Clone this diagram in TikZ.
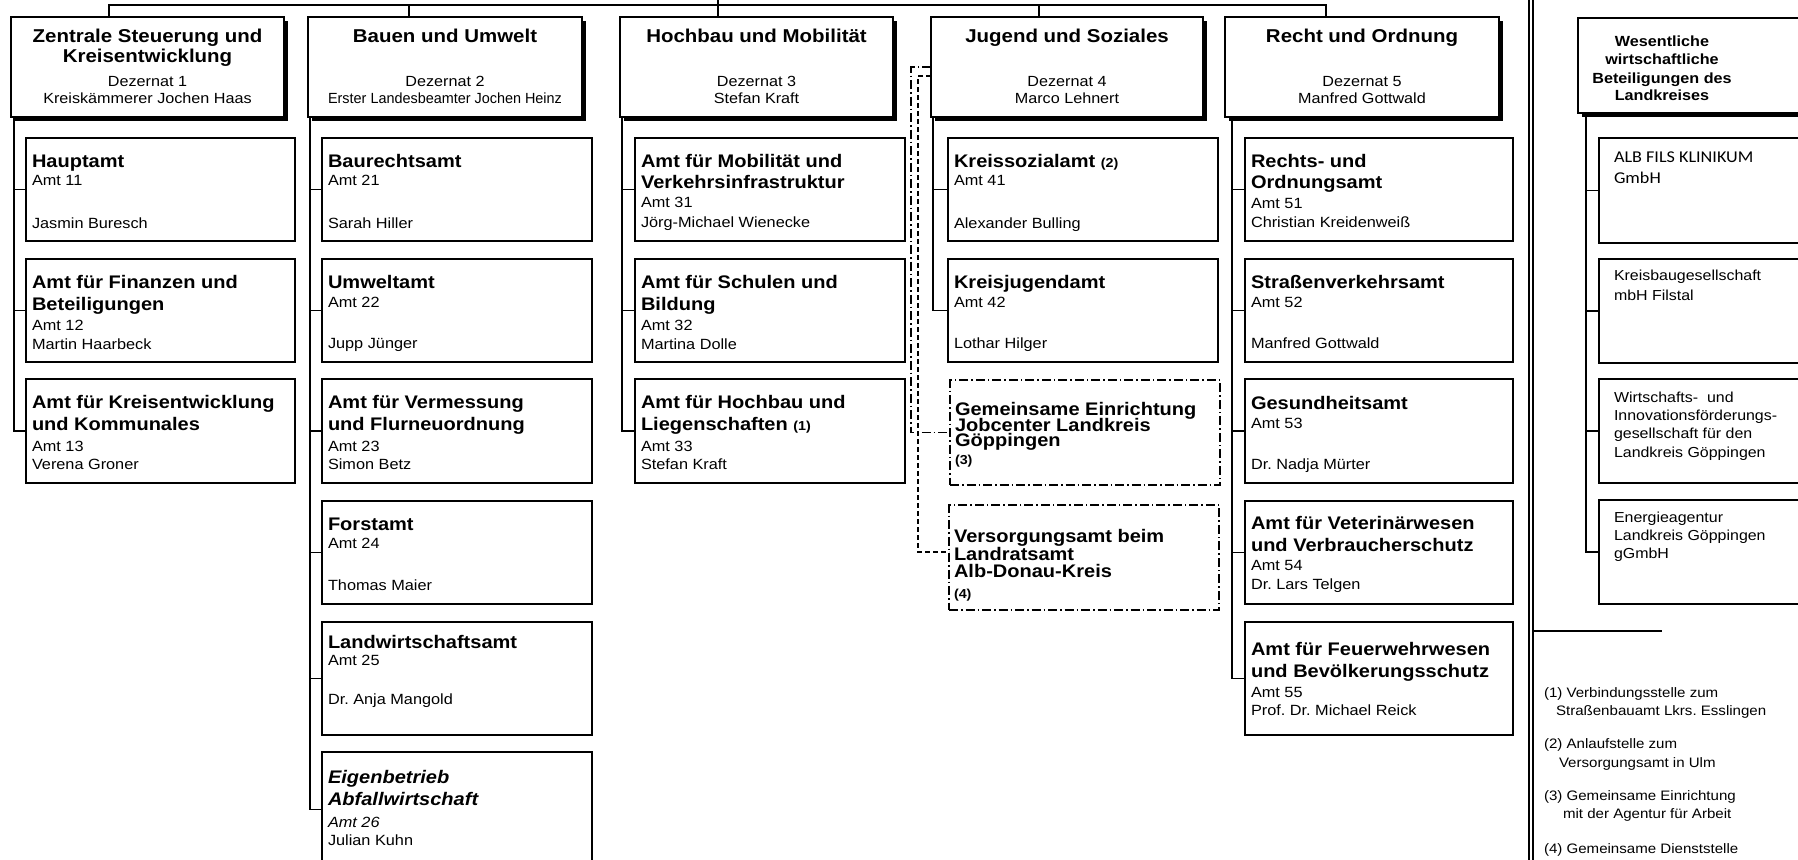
\documentclass[tikz,border=0pt]{standalone}
\usepackage{fontspec}
\setmainfont{Liberation Sans}[FakeStretch=1.1]
\newfontfamily\narrowf{Liberation Sans}[FakeStretch=0.98]
\newfontfamily\carl{Carlito}[FakeStretch=1.1]
\usetikzlibrary{shadows}
\frenchspacing
\newcommand\fntHT{\fontsize{18.6}{22}\selectfont\bfseries}
\newcommand\fntHB{\fontsize{14.7}{17}\selectfont}
\newcommand\fntHN{\narrowf\fontsize{14.7}{17}\selectfont}
\newcommand\fntST{\fontsize{18.2}{21}\selectfont\bfseries}
\newcommand\fntSB{\fontsize{14.8}{18}\selectfont}
\newcommand\fntSN{\fontsize{13}{15}\selectfont\bfseries}
\newcommand\fntBT{\fontsize{14.7}{17}\selectfont\bfseries}
\newcommand\fntBB{\fontsize{14.5}{17}\selectfont}
\newcommand\fntCB{\carl\fontsize{16.5}{18}\selectfont}
\newcommand\fntFN{\fontsize{13.7}{16}\selectfont}
\newcommand\tline[5]{\node[txt,font=#4] (#1) at (#2,#3) {#5};}
\newcommand\ctline[5]{\node[ctxt,font=#4] (#1) at (#2,#3) {#5};}
\tikzset{
  dez/.style={draw, line width=1.5pt, fill=white, anchor=north west, inner sep=0pt, outer sep=0pt,
    drop shadow={shadow xshift=4pt, shadow yshift=-4pt, fill=black, opacity=1}},
  amtbox/.style={draw, line width=1.3pt, fill=white, anchor=north west, inner sep=0pt, outer sep=0pt},
  extbox/.style={amtbox, dash pattern=on 9pt off 3pt on 1.5pt off 3pt},
  conn/.style={line width=1.4pt},
  ddot/.style={conn, line width=1.2pt, dash pattern=on 9pt off 3pt on 1.5pt off 3pt},
  dshd/.style={conn, line width=1.2pt, dash pattern=on 5pt off 3pt},
  txt/.style={anchor=base west, inner sep=0pt, outer sep=0pt},
  ctxt/.style={anchor=base, inner sep=0pt, outer sep=0pt},
}
\begin{document}
\begin{tikzpicture}[x=1pt,y=-1pt]
\useasboundingbox (0,0) rectangle (1798,859);
\clip (0,0) rectangle (1798,859);

% ---------- header boxes
\node[dez, minimum width=273pt, minimum height=100pt] (d1) at (11,17) {};
\node[dez, minimum width=274pt, minimum height=100pt] (d2) at (308,17) {};
\node[dez, minimum width=273pt, minimum height=100pt] (d3) at (620,17) {};
\node[dez, minimum width=272pt, minimum height=100pt] (d4) at (931,17) {};
\node[dez, minimum width=274pt, minimum height=100pt] (d5) at (1225,17) {};
\node[dez, minimum width=290pt, minimum height=95pt] (d6) at (1578,18) {};

% ---------- top connectors
\coordinate (t1) at (109,5);
\coordinate (t2) at (409,5);
\coordinate (t3) at (718,5);
\coordinate (t4) at (1039,5);
\coordinate (t5) at (1326,5);
\coordinate (up) at (718,-5);
\draw[conn] (t1 |- d1.north) -- (t1) -- (t5) -- (t5 |- d5.north);
\draw[conn] (t2) -- (t2 |- d2.north);
\draw[conn] (up) -- (t3 |- d3.north);
\draw[conn] (t4) -- (t4 |- d4.north);

% ---------- sub boxes
\node[amtbox, minimum width=269pt, minimum height=103pt] (a11) at (26,138) {};
\node[amtbox, minimum width=269pt, minimum height=103pt] (a12) at (26,259) {};
\node[amtbox, minimum width=269pt, minimum height=104pt] (a13) at (26,379) {};

\node[amtbox, minimum width=270pt, minimum height=103pt] (a21) at (322,138) {};
\node[amtbox, minimum width=270pt, minimum height=103pt] (a22) at (322,259) {};
\node[amtbox, minimum width=270pt, minimum height=104pt] (a23) at (322,379) {};
\node[amtbox, minimum width=270pt, minimum height=103pt] (a24) at (322,501) {};
\node[amtbox, minimum width=270pt, minimum height=113pt] (a25) at (322,622) {};
\node[amtbox, minimum width=270pt, minimum height=115pt] (a26) at (322,752) {};

\node[amtbox, minimum width=270pt, minimum height=103pt] (a31) at (635,138) {};
\node[amtbox, minimum width=270pt, minimum height=103pt] (a32) at (635,259) {};
\node[amtbox, minimum width=270pt, minimum height=104pt] (a33) at (635,379) {};

\node[amtbox, minimum width=270pt, minimum height=103pt] (a41) at (948,138) {};
\node[amtbox, minimum width=270pt, minimum height=103pt] (a42) at (948,259) {};
\node[extbox, minimum width=270pt, minimum height=105pt] (a43) at (950,380) {};
\node[extbox, minimum width=270pt, minimum height=105pt] (a44) at (949,505) {};

\node[amtbox, minimum width=268pt, minimum height=103pt] (a51) at (1245,138) {};
\node[amtbox, minimum width=268pt, minimum height=103pt] (a52) at (1245,259) {};
\node[amtbox, minimum width=268pt, minimum height=104pt] (a53) at (1245,379) {};
\node[amtbox, minimum width=268pt, minimum height=103pt] (a54) at (1245,501) {};
\node[amtbox, minimum width=268pt, minimum height=113pt] (a55) at (1245,622) {};

\node[amtbox, minimum width=260pt, minimum height=105pt] (b1) at (1599,138) {};
\node[amtbox, minimum width=260pt, minimum height=104pt] (b2) at (1599,259) {};
\node[amtbox, minimum width=260pt, minimum height=104pt] (b3) at (1599,379) {};
\node[amtbox, minimum width=260pt, minimum height=104pt] (b4) at (1599,500) {};

% ---------- column connectors
\foreach \b in {a11,a12,a13} \draw[conn] ([xshift=3pt]d1.south west) |- (\b.west);
\foreach \b in {a21,a22,a23,a24,a25,a26} \draw[conn] ([xshift=2pt]d2.south west) |- (\b.west);
\foreach \b in {a31,a32,a33} \draw[conn] ([xshift=2pt]d3.south west) |- (\b.west);
\foreach \b in {a41,a42} \draw[conn] ([xshift=2pt]d4.south west) |- (\b.west);
\foreach \b in {a51,a52,a53,a54,a55} \draw[conn] ([xshift=7pt]d5.south west) |- (\b.west);
\foreach \b in {b1,b2,b3,b4} \draw[conn] ([xshift=8pt]d6.south west) |- (\b.west);

% dashed links of Dezernat 4
\draw[ddot] (d4.west) -- (911,67) |- (a43.west);
\draw[dshd] ([yshift=-9pt]d4.west) -| (918,552) -- ([yshift=5.5pt]a44.west);

% double separator and footnote rule
\draw[conn] (1529,-2) -- (1529,862);
\draw[conn] (1533,-2) -- (1533,862);
\draw[conn] (1534,631) -- (1662,631);

% ---------- header texts
\ctline{d1t1}{147.5}{43}{\fntHT}{Zentrale Steuerung und}
\ctline{d1t2}{147.5}{63}{\fntHT}{Kreisentwicklung}
\ctline{d1t3}{147.5}{86}{\fntHB}{Dezernat 1}
\ctline{d1t4}{147.5}{103}{\fntHB}{Kreiskämmerer Jochen Haas}

\ctline{d2t1}{445}{43}{\fntHT}{Bauen und Umwelt}
\ctline{d2t2}{445}{86}{\fntHB}{Dezernat 2}
\ctline{d2t3}{445}{103}{\fntHN}{Erster Landesbeamter Jochen Heinz}

\ctline{d3t1}{756.5}{43}{\fntHT}{Hochbau und Mobilität}
\ctline{d3t2}{756.5}{86}{\fntHB}{Dezernat 3}
\ctline{d3t3}{756.5}{103}{\fntHB}{Stefan Kraft}

\ctline{d4t1}{1067}{43}{\fntHT}{Jugend und Soziales}
\ctline{d4t2}{1067}{86}{\fntHB}{Dezernat 4}
\ctline{d4t3}{1067}{103}{\fntHB}{Marco Lehnert}

\ctline{d5t1}{1362}{43}{\fntHT}{Recht und Ordnung}
\ctline{d5t2}{1362}{86}{\fntHB}{Dezernat 5}
\ctline{d5t3}{1362}{103}{\fntHB}{Manfred Gottwald}

\ctline{d6t1}{1662}{47}{\fntBT}{Wesentliche}
\ctline{d6t2}{1662}{65}{\fntBT}{wirtschaftliche}
\ctline{d6t3}{1662}{83}{\fntBT}{Beteiligungen des}
\ctline{d6t4}{1662}{100}{\fntBT}{Landkreises}

% ---------- column 1
\tline{a11t1}{32}{167}{\fntST}{Hauptamt}
\tline{a11t2}{32}{185}{\fntSB}{Amt 11}
\tline{a11t3}{32}{228}{\fntSB}{Jasmin Buresch}
\tline{a12t1}{32}{288}{\fntST}{Amt für Finanzen und}
\tline{a12t2}{32}{310}{\fntST}{Beteiligungen}
\tline{a12t3}{32}{330}{\fntSB}{Amt 12}
\tline{a12t4}{32}{349}{\fntSB}{Martin Haarbeck}
\tline{a13t1}{32}{408}{\fntST}{Amt für Kreisentwicklung}
\tline{a13t2}{32}{430}{\fntST}{und Kommunales}
\tline{a13t3}{32}{451}{\fntSB}{Amt 13}
\tline{a13t4}{32}{469}{\fntSB}{Verena Groner}

% ---------- column 2
\tline{a21t1}{328}{167}{\fntST}{Baurechtsamt}
\tline{a21t2}{328}{185}{\fntSB}{Amt 21}
\tline{a21t3}{328}{228}{\fntSB}{Sarah Hiller}
\tline{a22t1}{328}{288}{\fntST}{Umweltamt}
\tline{a22t2}{328}{307}{\fntSB}{Amt 22}
\tline{a22t3}{328}{348}{\fntSB}{Jupp Jünger}
\tline{a23t1}{328}{408}{\fntST}{Amt für Vermessung}
\tline{a23t2}{328}{430}{\fntST}{und Flurneuordnung}
\tline{a23t3}{328}{451}{\fntSB}{Amt 23}
\tline{a23t4}{328}{469}{\fntSB}{Simon Betz}
\tline{a24t1}{328}{530}{\fntST}{Forstamt}
\tline{a24t2}{328}{548}{\fntSB}{Amt 24}
\tline{a24t3}{328}{590}{\fntSB}{Thomas Maier}
\tline{a25t1}{328}{648}{\fntST}{Landwirtschaftsamt}
\tline{a25t2}{328}{665}{\fntSB}{Amt 25}
\tline{a25t3}{328}{704}{\fntSB}{Dr. Anja Mangold}
\tline{a26t1}{328}{783}{\fntST\itshape}{Eigenbetrieb}
\tline{a26t2}{328}{805}{\fntST\itshape}{Abfallwirtschaft}
\tline{a26t3}{328}{827}{\fntSB\itshape}{Amt 26}
\tline{a26t4}{328}{845}{\fntSB}{Julian Kuhn}

% ---------- column 3
\tline{a31t1}{641}{167}{\fntST}{Amt für Mobilität und}
\tline{a31t2}{641}{188}{\fntST}{Verkehrsinfrastruktur}
\tline{a31t3}{641}{207}{\fntSB}{Amt 31}
\tline{a31t4}{641}{227}{\fntSB}{Jörg-Michael Wienecke}
\tline{a32t1}{641}{288}{\fntST}{Amt für Schulen und}
\tline{a32t2}{641}{310}{\fntST}{Bildung}
\tline{a32t3}{641}{330}{\fntSB}{Amt 32}
\tline{a32t4}{641}{349}{\fntSB}{Martina Dolle}
\tline{a33t1}{641}{408}{\fntST}{Amt für Hochbau und}
\tline{a33t2}{641}{430}{\fntST}{Liegenschaften {\fntSN(1)}}
\tline{a33t3}{641}{451}{\fntSB}{Amt 33}
\tline{a33t4}{641}{469}{\fntSB}{Stefan Kraft}

% ---------- column 4
\tline{a41t1}{954}{167}{\fntST}{Kreissozialamt {\fntSN(2)}}
\tline{a41t2}{954}{185}{\fntSB}{Amt 41}
\tline{a41t3}{954}{228}{\fntSB}{Alexander Bulling}
\tline{a42t1}{954}{288}{\fntST}{Kreisjugendamt}
\tline{a42t2}{954}{307}{\fntSB}{Amt 42}
\tline{a42t3}{954}{348}{\fntSB}{Lothar Hilger}
\tline{a43t1}{955}{415}{\fntST}{Gemeinsame Einrichtung}
\tline{a43t2}{955}{431}{\fntST}{Jobcenter Landkreis}
\tline{a43t3}{955}{446}{\fntST}{Göppingen}
\tline{a43t4}{955}{464}{\fntSN}{(3)}
\tline{a44t1}{954}{542}{\fntST}{Versorgungsamt beim}
\tline{a44t2}{954}{560}{\fntST}{Landratsamt}
\tline{a44t3}{954}{577}{\fntST}{Alb-Donau-Kreis}
\tline{a44t4}{954}{598}{\fntSN}{(4)}

% ---------- column 5
\tline{a51t1}{1251}{167}{\fntST}{Rechts- und}
\tline{a51t2}{1251}{188}{\fntST}{Ordnungsamt}
\tline{a51t3}{1251}{208}{\fntSB}{Amt 51}
\tline{a51t4}{1251}{227}{\fntSB}{Christian Kreidenweiß}
\tline{a52t1}{1251}{288}{\fntST}{Straßenverkehrsamt}
\tline{a52t2}{1251}{307}{\fntSB}{Amt 52}
\tline{a52t3}{1251}{348}{\fntSB}{Manfred Gottwald}
\tline{a53t1}{1251}{409}{\fntST}{Gesundheitsamt}
\tline{a53t2}{1251}{428}{\fntSB}{Amt 53}
\tline{a53t3}{1251}{469}{\fntSB}{Dr. Nadja Mürter}
\tline{a54t1}{1251}{529}{\fntST}{Amt für Veterinärwesen}
\tline{a54t2}{1251}{551}{\fntST}{und Verbraucherschutz}
\tline{a54t3}{1251}{570}{\fntSB}{Amt 54}
\tline{a54t4}{1251}{589}{\fntSB}{Dr. Lars Telgen}
\tline{a55t1}{1251}{655}{\fntST}{Amt für Feuerwehrwesen}
\tline{a55t2}{1251}{677}{\fntST}{und Bevölkerungsschutz}
\tline{a55t3}{1251}{697}{\fntSB}{Amt 55}
\tline{a55t4}{1251}{715}{\fntSB}{Prof. Dr. Michael Reick}

% ---------- column 6
\tline{b1t1}{1614}{162}{\fntCB}{ALB FILS KLINIKUM}
\tline{b1t2}{1614}{183}{\fntCB}{GmbH}
\tline{b2t1}{1614}{280}{\fntBB}{Kreisbaugesellschaft}
\tline{b2t2}{1614}{300}{\fntBB}{mbH Filstal}
\tline{b3t1}{1614}{402}{\fntBB}{Wirtschafts-\ \ und}
\tline{b3t2}{1614}{420}{\fntBB}{Innovationsförderungs-}
\tline{b3t3}{1614}{438}{\fntBB}{gesellschaft für den}
\tline{b3t4}{1614}{457}{\fntBB}{Landkreis Göppingen}
\tline{b4t1}{1614}{522}{\fntBB}{Energieagentur}
\tline{b4t2}{1614}{540}{\fntBB}{Landkreis Göppingen}
\tline{b4t3}{1614}{558}{\fntBB}{gGmbH}

% ---------- footnotes
\tline{fn1a}{1544}{697}{\fntFN}{(1) Verbindungsstelle zum}
\tline{fn1b}{1556}{715}{\fntFN}{Straßenbauamt Lkrs. Esslingen}
\tline{fn2a}{1544}{748}{\fntFN}{(2) Anlaufstelle zum}
\tline{fn2b}{1559}{767}{\fntFN}{Versorgungsamt in Ulm}
\tline{fn3a}{1544}{800}{\fntFN}{(3) Gemeinsame Einrichtung}
\tline{fn3b}{1563}{818}{\fntFN}{mit der Agentur für Arbeit}
\tline{fn4a}{1544}{853}{\fntFN}{(4) Gemeinsame Dienststelle}
\end{tikzpicture}
\end{document}
